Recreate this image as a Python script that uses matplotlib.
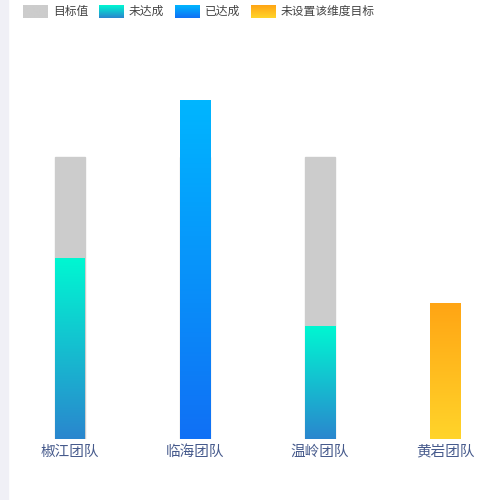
import matplotlib.pyplot as plt
import numpy as np
from matplotlib.colors import LinearSegmentedColormap
from matplotlib.patches import Rectangle, FancyBboxPatch

plt.rcParams['font.family'] = ['Noto Sans CJK SC', 'DejaVu Sans']

teams = ["椒江团队", "临海团队", "温岭团队", "黄岩团队"]
targets = [100, 100, 100, None]
actuals = [64, 120, 40, 48]
status = ["未达成", "已达成", "未达成", "未设置该维度目标"]

grad = {
    "未达成": ("#2a86ce", "#00f7d2"),
    "已达成": ("#1070f5", "#00b6ff"),
    "未设置该维度目标": ("#ffd42a", "#ffa514"),
}

fig = plt.figure(figsize=(5, 5), dpi=100)
fig.patches.append(Rectangle((0, 0), 8 / 500, 1, transform=fig.transFigure,
                             color="#f0f0f6", zorder=0))
ax = fig.add_axes([8 / 500, 61 / 500, 492 / 500, 439 / 500])
ax.set_xlim(-62 / 125, 3 + 430 / 125 - 3)
ax.set_ylim(0, 155.7)
w = 30 / 125

for i, (t, a, s) in enumerate(zip(targets, actuals, status)):
    if t is not None:
        ax.add_patch(Rectangle((i - w / 2, 0), w, t, color="#cccccc", zorder=1))
    cmap = LinearSegmentedColormap.from_list(s, grad[s])
    g = np.linspace(0, 1, 256).reshape(-1, 1)
    ax.imshow(g, cmap=cmap, origin="lower", aspect="auto",
              extent=(i - w / 2, i + w / 2, 0, a), zorder=2)

ax.set_xlim(-62 / 125, 3 + 55 / 125)
ax.set_ylim(0, 155.7)
ax.set_xticks(range(len(teams)))
ax.set_xticklabels(teams, fontsize=10.5, color="#465a8c")
ax.tick_params(length=0, pad=4)
ax.set_yticks([])
for sp in ax.spines.values():
    sp.set_visible(False)

# legend
legend_items = [("目标值", ("#cccccc", "#cccccc")), ("未达成", ("#2a86ce", "#00f7d2")),
                ("已达成", ("#1070f5", "#00b6ff")), ("未设置该维度目标", ("#ffd42a", "#ffa514"))]
xs = [23, 99, 175, 251]
for x, (lab, (c0, c1)) in zip(xs, legend_items):
    cmap = LinearSegmentedColormap.from_list(lab, [c0, c1])
    lax = fig.add_axes([x / 500, (500 - 18) / 500, 25 / 500, 13 / 500])
    lax.imshow(np.linspace(0, 1, 64).reshape(-1, 1), cmap=cmap, origin="lower",
               aspect="auto", extent=(0, 1, 0, 1))
    lax.axis("off")
    fig.text((x + 30) / 500, (500 - 11) / 500, lab, fontsize=8.5, color="#444444",
             va="center")

fig.savefig("out.png", dpi=100, facecolor="white")
